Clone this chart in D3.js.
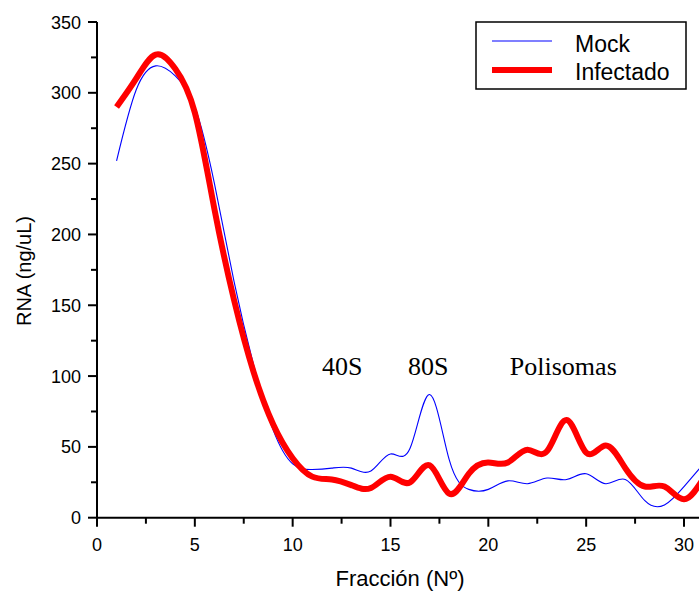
<!DOCTYPE html>
<html><head><meta charset="utf-8">
<script src="https://cdn.jsdelivr.net/npm/d3@7"></script>
<style>
html,body{margin:0;padding:0;background:#fff;overflow:hidden;}
svg{display:block;}
</style></head>
<body>
<script>
const fractions = [1,2,3,4,5,6,7,8,9,10,11,12,13,14,15,16,17,18,19,20,21,22,23,24,25,26,27,28,29,30,31];
const mock =      [252,302,319,312,290,236,167,108,62,38,34,35,35,33,45,49,87,41,20,20,26,24,28,27,31,24,27,12,9,22,38];
const infectado = [290,310,327,317,286,218,154,103,66,42,29,27,23,21,29,25,37,17,31,39,39,48,47,69,46,51,35,22,22,13,28];
const xMajor = [0,5,10,15,20,25,30];
const xMinor = [2.5,7.5,12.5,17.5,22.5,27.5];
const yMajor = [0,50,100,150,200,250,300,350];
const yMinor = [25,75,125,175,225,275,325];
const seriesNames = ["Mock","Infectado"];
const annotations = [{t:"40S",x:11.5},{t:"80S",x:15.9},{t:"Polisomas",x:21.1}];

const SANS="'Liberation Sans',Arial,sans-serif", SERIF="'Liberation Serif','Times New Roman',serif";
const W=699,H=591;
const svg=d3.select("body").append("svg").attr("width",W).attr("height",H).style("font-family",SANS);
const x=d3.scaleLinear().domain([0,30]).range([97,684]);
const y=d3.scaleLinear().domain([0,350]).range([517.7,22]);

// lines
const line=d3.line().x((d,i)=>x(fractions[i])).y(d=>y(d)).curve(d3.curveNatural);
svg.append("path").datum(mock).attr("d",line).attr("fill","none").attr("stroke","#0000ff").attr("stroke-width",1.1);
svg.append("path").datum(infectado).attr("d",line).attr("fill","none").attr("stroke","#ff0000").attr("stroke-width",6);

// x axis
const xg=svg.append("g").attr("transform","translate(0,517.7)");
xg.append("line").attr("x1",x(0)).attr("x2",W).attr("stroke","#000").attr("stroke-width",2);
xg.selectAll(".xM").data(xMajor).join("line").attr("x1",d=>x(d)).attr("x2",d=>x(d)).attr("y1",0).attr("y2",9).attr("stroke","#000").attr("stroke-width",2);
xg.selectAll(".xm").data(xMinor).join("line").attr("x1",d=>x(d)).attr("x2",d=>x(d)).attr("y1",0).attr("y2",6).attr("stroke","#000").attr("stroke-width",2);
xg.selectAll(".xl").data(xMajor).join("text").attr("x",d=>x(d)).attr("y",33).attr("text-anchor","middle").attr("font-size",18).text(d=>d);

// y axis
const yg=svg.append("g").attr("transform","translate(97,0)");
yg.append("line").attr("y1",y(0)+1).attr("y2",y(350)).attr("stroke","#000").attr("stroke-width",2);
yg.selectAll(".yM").data(yMajor).join("line").attr("x1",0).attr("x2",-9).attr("y1",d=>y(d)).attr("y2",d=>y(d)).attr("stroke","#000").attr("stroke-width",2);
yg.selectAll(".ym").data(yMinor).join("line").attr("x1",0).attr("x2",-6).attr("y1",d=>y(d)).attr("y2",d=>y(d)).attr("stroke","#000").attr("stroke-width",2);
yg.selectAll(".yl").data(yMajor).join("text").attr("x",-16).attr("y",d=>y(d)+6.5).attr("text-anchor","end").attr("font-size",18).text(d=>d);

// titles
svg.append("text").attr("x",400).attr("y",586).attr("text-anchor","middle").attr("font-size",22).text("Fracción (Nº)");
svg.append("text").attr("transform","translate(31,271) rotate(-90)").attr("text-anchor","middle").attr("font-size",20).text("RNA (ng/uL)");

// annotations
svg.selectAll(".ann").data(annotations).join("text").attr("x",d=>x(d.x)).attr("y",375)
  .style("font-family",SERIF).attr("font-size",26).text(d=>d.t);

// legend
const lg=svg.append("g");
lg.append("rect").attr("x",476).attr("y",22).attr("width",210).attr("height",67).attr("fill","#fff").attr("stroke","#000").attr("stroke-width",1.5);
const cols=["#0000ff","#ff0000"], widths=[1.1,6], ly=[41,70];
seriesNames.forEach((n,i)=>{
  lg.append("line").attr("x1",492).attr("x2",552).attr("y1",ly[i]).attr("y2",ly[i]).attr("stroke",cols[i]).attr("stroke-width",widths[i]);
  lg.append("text").attr("x",575).attr("y",[51.5,80][i]).attr("font-size",23).text(n);
});
</script>
</body></html>
